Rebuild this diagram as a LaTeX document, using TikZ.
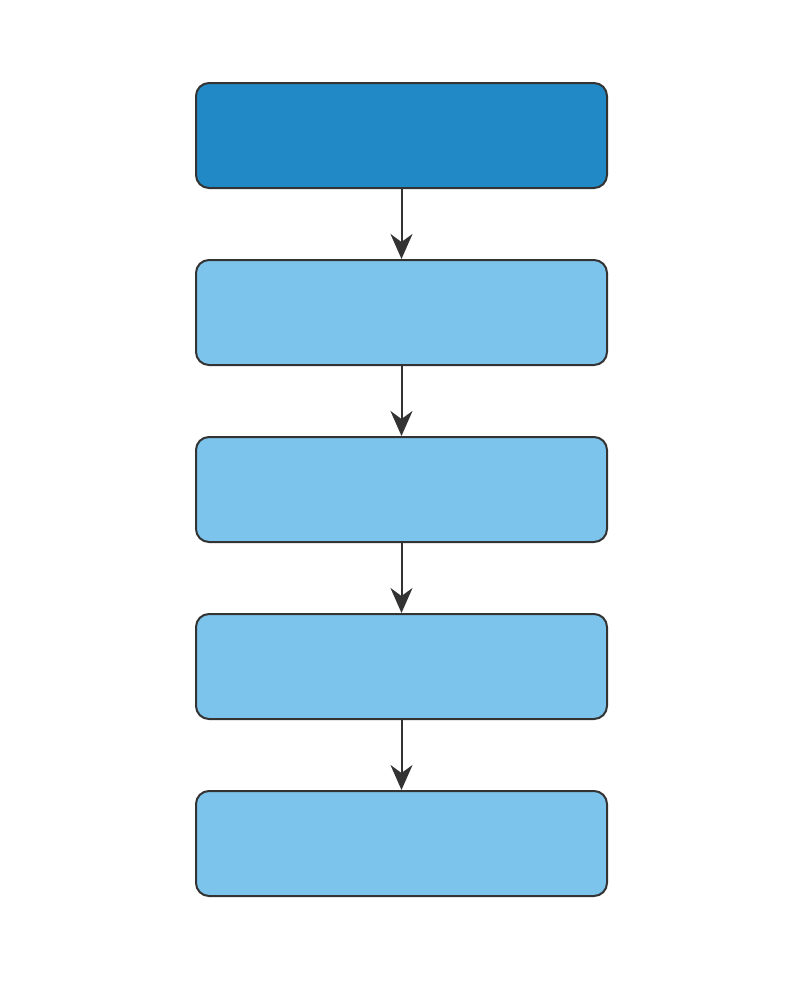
\documentclass[tikz,border=0pt]{standalone}
\usepackage{xcolor}
\usepackage{tikz}
\usetikzlibrary{arrows.meta,positioning}
\definecolor{darkblue}{HTML}{2189C5}
\definecolor{lightblue}{HTML}{7DC4ED}
\definecolor{edgegrey}{HTML}{333333}
\tikzset{
  flowbox/.style={
    rectangle, rounded corners=0.26cm, draw=edgegrey, line width=0.04cm,
    minimum width=8.22cm, minimum height=2.1cm, fill=#1
  },
  flowbox/.default=lightblue,
  flowarrow/.style={-{Stealth[length=5mm, width=4.4mm, inset=1.6mm]}, draw=edgegrey, line width=0.04cm}
}
\begin{document}
\begin{tikzpicture}
\useasboundingbox (0,0) rectangle (16.08,-20);

% Boxes
\node[flowbox=darkblue] (first) at (8.03,-2.71) {};
\node[flowbox, below=1.4cm of first] (second) {};
\node[flowbox, below=1.4cm of second] (third) {};
\node[flowbox, below=1.4cm of third] (fourth) {};
\node[flowbox, below=1.4cm of fourth] (fifth) {};

% Arrows
\draw[flowarrow] (first) -- (second);
\draw[flowarrow] (second) -- (third);
\draw[flowarrow] (third) -- (fourth);
\draw[flowarrow] (fourth) -- (fifth);
\end{tikzpicture}
\end{document}
